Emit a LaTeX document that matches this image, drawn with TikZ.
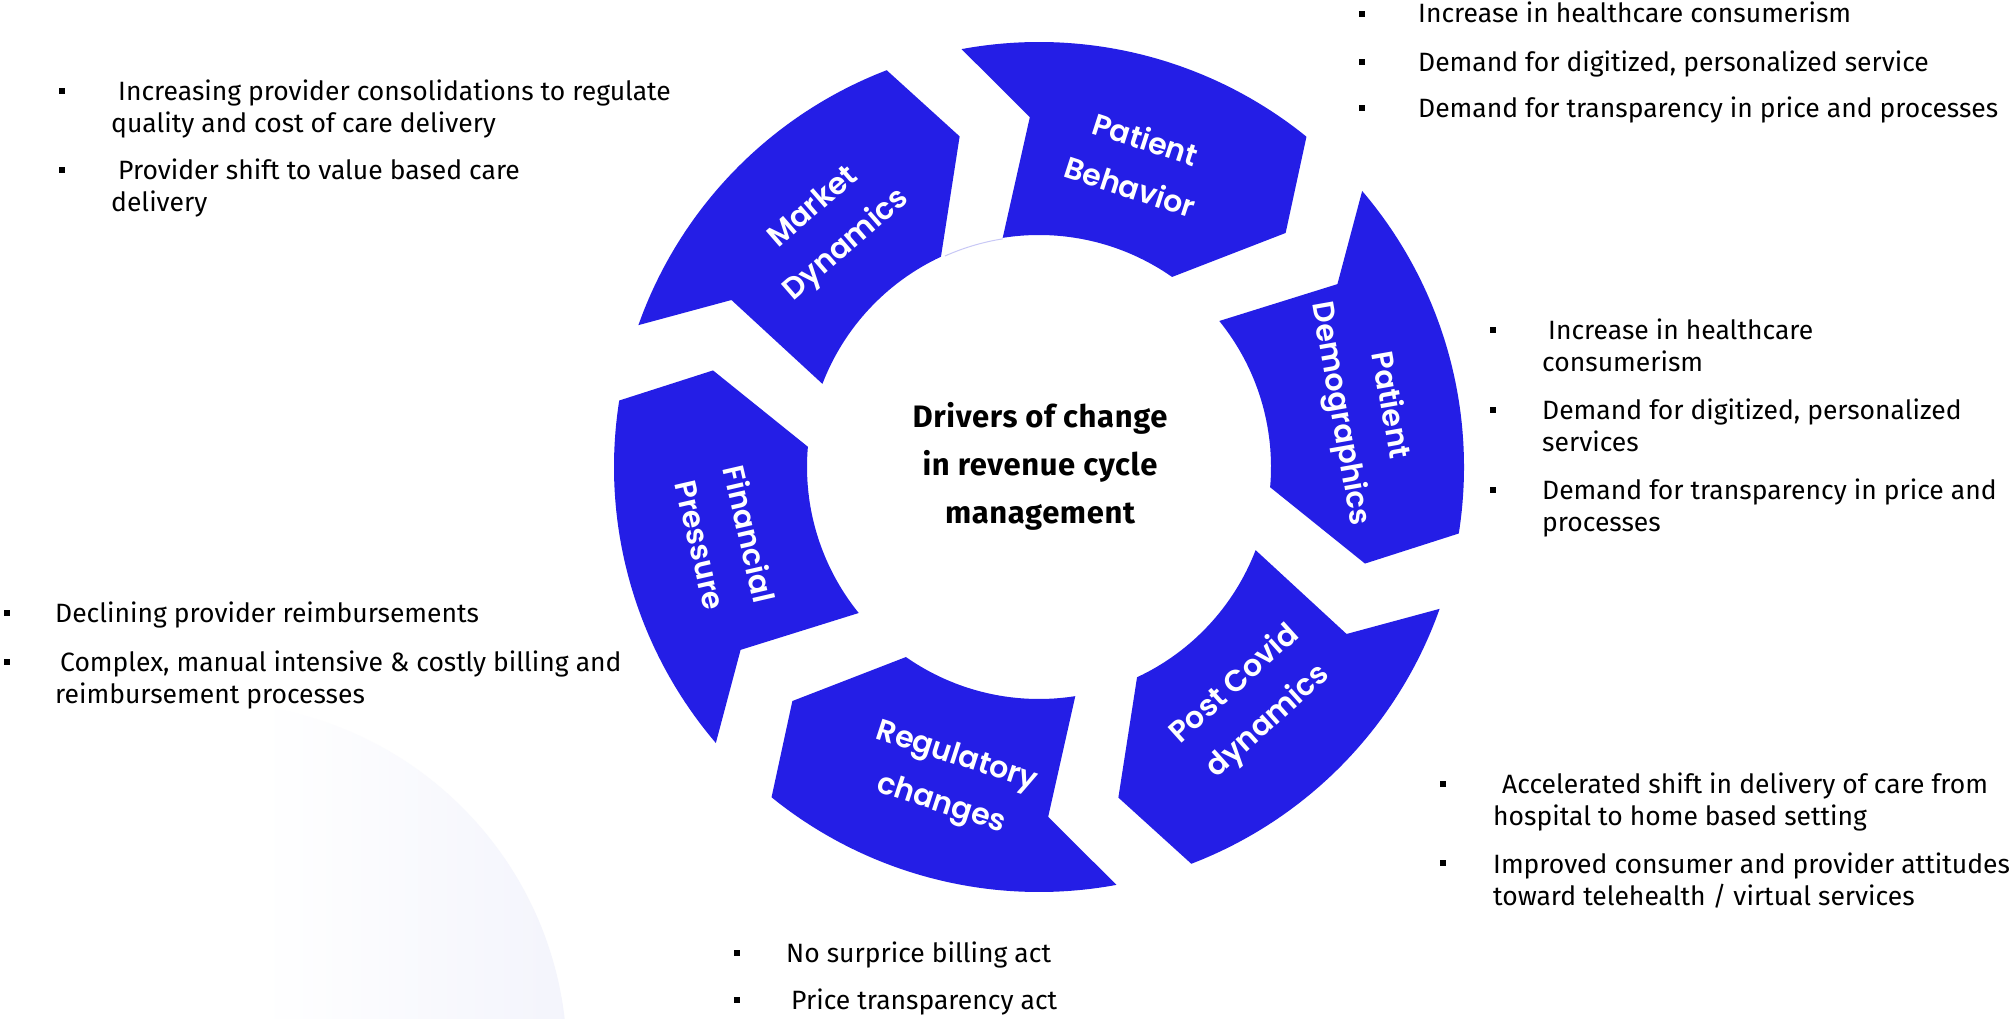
\documentclass[tikz,border=0pt]{standalone}
\usepackage{fontspec}
\setmainfont{Fira Sans}
\newfontfamily\labfont{Poppins SemiBold}
\definecolor{segblue}{RGB}{36,30,230}
\definecolor{lav}{RGB}{243,244,252}
\definecolor{lavline}{RGB}{200,200,246}
\begin{document}
\begin{tikzpicture}[x=1pt,y=1pt,
  seg/.style={fill=segblue, draw=none},
  seglabel/.style={font=\labfont\fontsize{30}{50}\selectfont, text=white, align=center, inner sep=0pt},
  centertext/.style={font=\bfseries\fontsize{31}{48}\selectfont\addfontfeature{LetterSpace=2}, text=black, align=center, inner sep=0pt},
  bodytext/.style={font=\fontsize{26.5}{32}\selectfont, anchor=base west, inner sep=0pt, text=black},
  bul/.style={fill=black, draw=none, rectangle, minimum size=6pt, inner sep=0pt},
]
\useasboundingbox (0,0) rectangle (2011,1018);
\fill[white] (0,0) rectangle (2011,1018);
% faint background shape
\begin{scope}
  \clip (210,-42) circle[radius=357];
  \shade[left color=white, right color=lav] (260,0) rectangle (575,320);
\end{scope}
% ring of arrows
\begin{scope}[shift={(1039,551)}]
  \foreach \k in {0,60,120,180,240,300} {
    \begin{scope}[rotate=\k]
      \fill[seg] (160.5:425) arc[start angle=160.5, end angle=111, radius=425]
        -- (103.5:340) -- (115:232) arc[start angle=115, end angle=159, radius=232]
        -- (151.5:350) -- cycle;
    \end{scope}
  }
  \draw[lavline, line width=1pt] (114:231) arc[start angle=114, end angle=99, radius=231];
  \node[seglabel, rotate=41]  (lmd)  at (131:318) {Market\\Dynamics};
  \node[seglabel, rotate=-18] (lpb)  at (72:320)  {Patient\\Behavior};
  \node[seglabel, rotate=-80] (lpd)  at (10:330)  {Patient\\Demographics};
  \node[seglabel, rotate=42]  (lpcd) at (-48:318) {Post Covid\\dynamics};
  \node[seglabel, rotate=-18] (lrc)  at (254:327) {Regulatory\\changes};
  \node[seglabel, rotate=-77] (lfp)  at (193:322) {Financial\\Pressure};
\end{scope}
\node[centertext] (ctr) at (1040,552) {Drivers of change\\in revenue cycle\\management};
% Market dynamics block
\node[bul] (bmd1) at (62,927) {};
\node[bul] (bmd2) at (62,848) {};
\node[bodytext] (tmd1) at (118,917) {Increasing provider consolidations to regulate};
\node[bodytext] (tmd2) at (111,885) {quality and cost of care delivery};
\node[bodytext] (tmd3) at (118,838) {Provider shift to value based care};
\node[bodytext] (tmd4) at (111,806) {delivery};
% Patient behavior block
\node[bul] (bpb1) at (1362,1004) {};
\node[bul] (bpb2) at (1362,956) {};
\node[bul] (bpb3) at (1362,910) {};
\node[bodytext] (tpb1) at (1418,995) {Increase in healthcare consumerism};
\node[bodytext] (tpb2) at (1418,946) {Demand for digitized, personalized service};
\node[bodytext] (tpb3) at (1418,900) {Demand for transparency in price and processes};
% Patient demographics block
\node[bul] (bpd1) at (1493,688) {};
\node[bul] (bpd2) at (1493,608) {};
\node[bul] (bpd3) at (1493,528) {};
\node[bodytext] (tpd1) at (1548,678) {Increase in healthcare};
\node[bodytext] (tpd2) at (1542,646) {consumerism};
\node[bodytext] (tpd3) at (1542,598) {Demand for digitized, personalized};
\node[bodytext] (tpd4) at (1542,566) {services};
\node[bodytext] (tpd5) at (1542,518) {Demand for transparency in price and};
\node[bodytext] (tpd6) at (1542,486) {processes};
% Post covid block
\node[bul] (bpc1) at (1443,234) {};
\node[bul] (bpc2) at (1443,155) {};
\node[bodytext] (tpc1) at (1502,224) {Accelerated shift in delivery of care from};
\node[bodytext] (tpc2) at (1493,192) {hospital to home based setting};
\node[bodytext] (tpc3) at (1493,145) {Improved consumer and provider attitudes};
\node[bodytext] (tpc4) at (1493,113) {toward telehealth / virtual services};
% Regulatory block
\node[bul] (brc1) at (737,65) {};
\node[bul] (brc2) at (737,18) {};
\node[bodytext] (trc1) at (786,56) {No surprice billing act};
\node[bodytext] (trc2) at (791,9) {Price transparency act};
% Financial block
\node[bul] (bfp1) at (7,405) {};
\node[bul] (bfp2) at (7,356) {};
\node[bodytext] (tfp1) at (55,395) {Declining provider reimbursements};
\node[bodytext] (tfp2) at (60,346) {Complex, manual intensive \& costly billing and};
\node[bodytext] (tfp3) at (55,314) {reimbursement processes};
\end{tikzpicture}
\end{document}
